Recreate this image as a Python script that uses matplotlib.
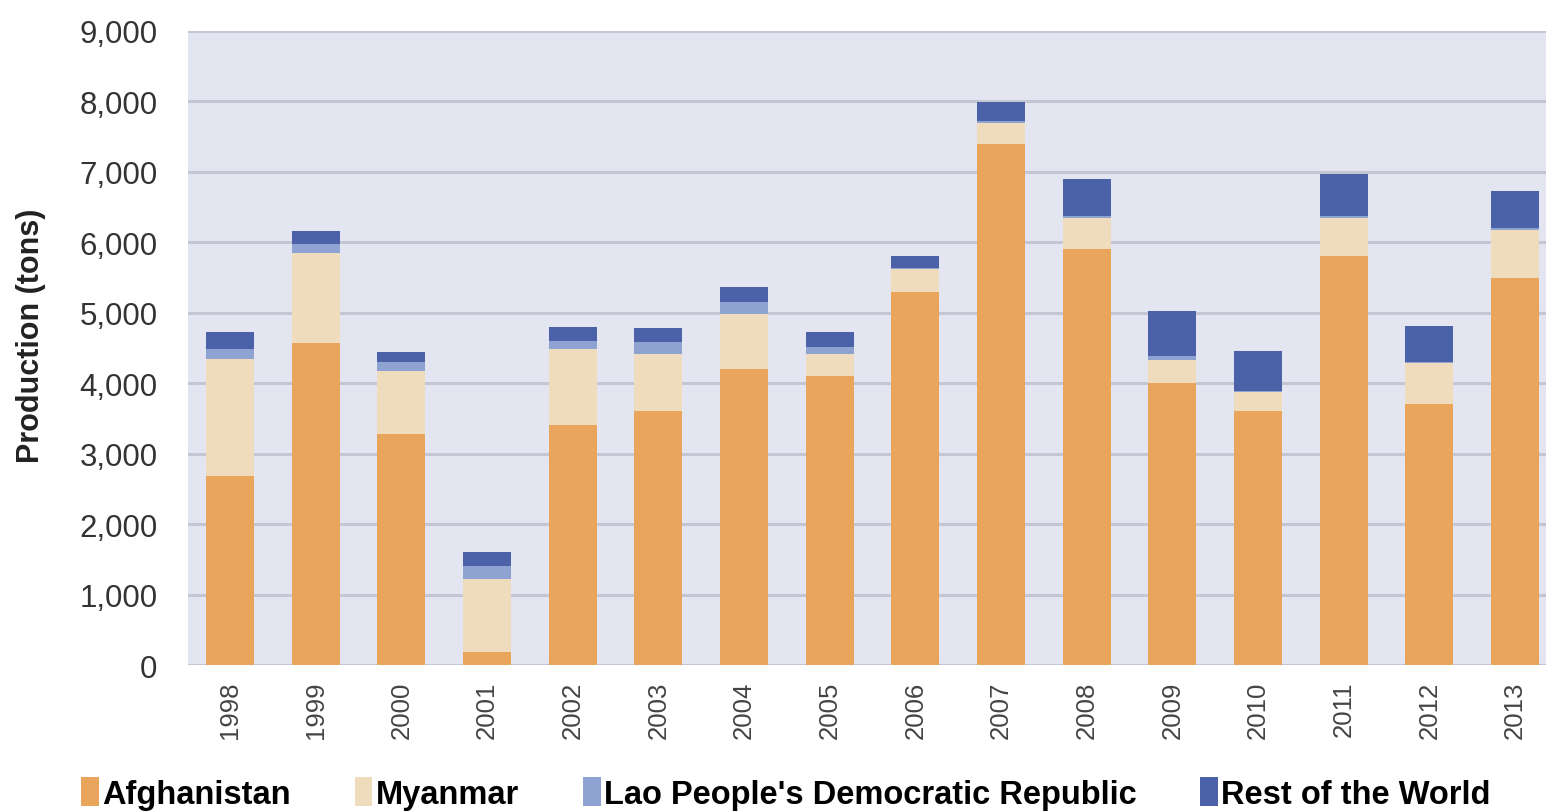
import numpy as np
import matplotlib.pyplot as plt
from matplotlib.ticker import FuncFormatter

# opium production by year, tons
years = ['1998', '1999', '2000', '2001', '2002', '2003', '2004', '2005',
         '2006', '2007', '2008', '2009', '2010', '2011', '2012', '2013']
afghanistan = [2690, 4565, 3276, 185, 3400, 3600, 4200, 4100,
               5300, 7400, 5900, 4000, 3600, 5800, 3700, 5500]
myanmar = [1650, 1290, 900, 1040, 1080, 810, 785, 315,
           315, 300, 450, 330, 270, 550, 580, 680]
lao = [140, 115, 130, 180, 120, 170, 170, 100,
       20, 20, 20, 50, 20, 25, 20, 20]
rest = [250, 190, 140, 200, 200, 200, 210, 215,
        165, 270, 530, 645, 570, 595, 515, 530]

series = [('Afghanistan', afghanistan, '#E9A55B'),
          ('Myanmar', myanmar, '#EEDCBC'),
          ("Lao People's Democratic Republic", lao, '#8EA3D2'),
          ('Rest of the World', rest, '#4B62A8')]

plt.rcParams['font.family'] = ['Liberation Sans', 'DejaVu Sans']

fig = plt.figure(figsize=(15.46, 8.12), dpi=100)
ax = fig.add_axes([188 / 1546, 1 - 666 / 812, 1 - 188 / 1546, (666 - 32) / 812])
ax.set_facecolor('#E3E5F1')

x = np.arange(len(years))
bottom = np.zeros(len(years))
for name, vals, color in series:
    ax.bar(x, vals, width=0.56, bottom=bottom, color=color, label=name, zorder=3)
    bottom += np.array(vals)

ax.set_ylim(0, 9000)
ax.set_xlim(-0.49, 15.36)
ax.set_yticks(np.arange(0, 9001, 1000))
ax.yaxis.set_major_formatter(FuncFormatter(lambda v, p: f'{int(v):,}'))
ax.grid(axis='y', color='#C5C6D3', linewidth=2.2, zorder=1)
ax.set_axisbelow(True)
for s in ax.spines.values():
    s.set_visible(False)

ax.set_xticks(x)
ax.set_xticklabels(years, rotation=90, fontsize=18.5, color='#444444')
ax.tick_params(axis='x', length=0, pad=11)
ax.tick_params(axis='y', length=0, pad=22, labelsize=22.5, labelcolor='#333333')

fig.text(31 / 1546, 1 - 336 / 812, 'Production (tons)', rotation=90,
         ha='center', va='center', fontsize=22, fontweight='bold', color='#222222')

fig.legend(loc='center left', bbox_to_anchor=(68 / 1546, 0.022), ncol=4,
           frameon=False, handlelength=0.55, handleheight=1.0, handletextpad=0.1,
           columnspacing=1.95, borderaxespad=0,
           prop={'family': 'Liberation Sans', 'weight': 'bold', 'size': 23.5})

fig.savefig('out.png', dpi=100, facecolor='white')
